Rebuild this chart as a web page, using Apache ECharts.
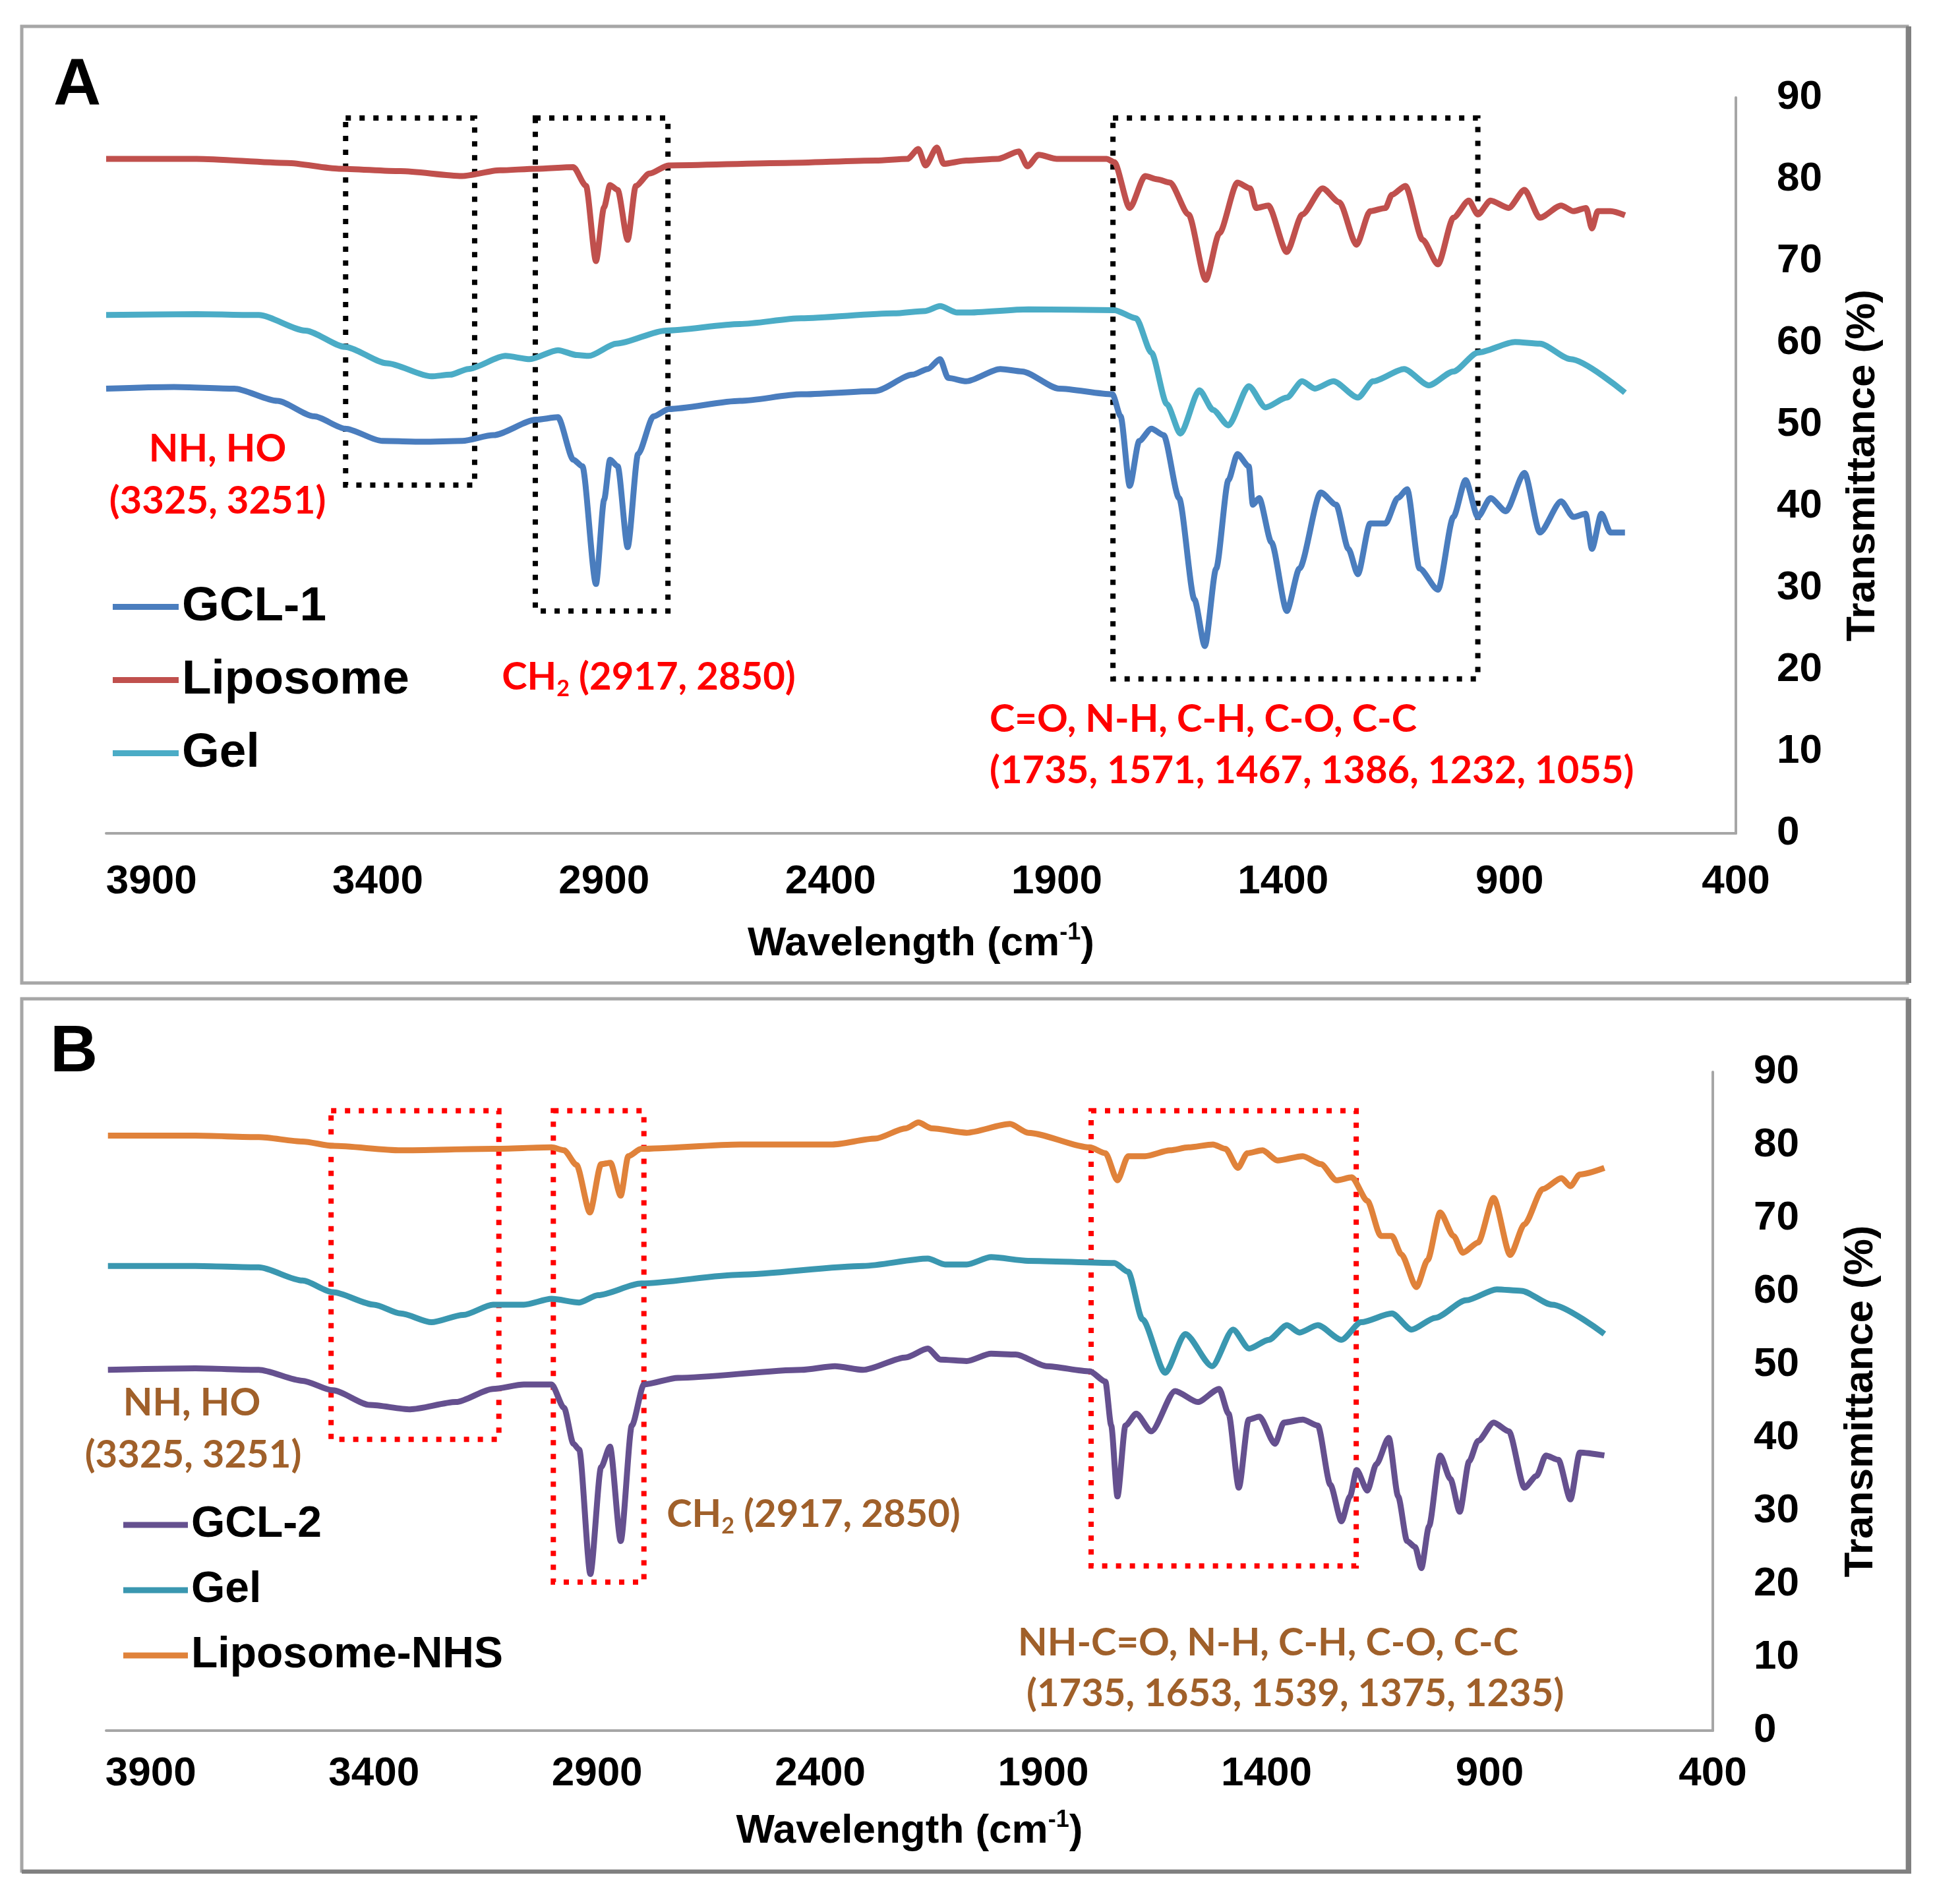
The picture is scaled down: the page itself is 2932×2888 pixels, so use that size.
<!DOCTYPE html>
<html>
<head>
<meta charset="utf-8">
<title>FTIR spectra</title>
<script src="https://cdn.jsdelivr.net/npm/echarts@6/dist/echarts.min.js"></script>
<style>
  html, body { margin: 0; padding: 0; background: #fff; }
  #main { width: 2932px; height: 2888px; }
</style>
</head>
<body>
<div id="main"></div>
<script>
// x ticks (cm-1) and y ticks (%)
var xTicks = [3900, 3400, 2900, 2400, 1900, 1400, 900, 400];
var yTicks = [0, 10, 20, 30, 40, 50, 60, 70, 80, 90];

// panel A : [wavenumber, transmittance]
var gcl1 = [[4000,54.4],[3850,54.6],[3717,54.4],[3622,52.9],[3540,51.0],[3472,49.5],[3390,48.0],[3300,47.9],[3213,48.0],[3145,48.7],[3050,50.6],[3002,50.9],[2968,45.7],[2948,44.9],[2918,30.5],[2900,40.8],[2887,45.7],[2870,44.9],[2848,35.0],[2825,46.4],[2791,51.0],[2757,51.9],[2600,52.9],[2465,53.7],[2301,54.1],[2219,56.1],[2185,56.8],[2158,58.0],[2140,55.7],[2100,55.3],[2025,56.8],[1977,56.5],[1895,54.4],[1777,53.7],[1759,51.0],[1739,42.5],[1718,48.0],[1691,49.5],[1664,48.7],[1630,41.0],[1596,28.6],[1573,22.9],[1548,32.4],[1521,43.2],[1501,46.4],[1476,44.9],[1467,40.2],[1453,41.0],[1426,35.6],[1392,27.2],[1364,32.4],[1317,41.7],[1283,40.2],[1256,34.8],[1235,31.7],[1208,37.9],[1174,37.9],[1147,41.0],[1126,42.1],[1099,32.4],[1058,29.8],[1024,38.7],[997,43.2],[970,38.7],[942,41.0],[908,39.4],[867,44.1],[833,36.8],[786,40.6],[759,38.7],[732,39.1],[718,34.8],[697,39.1],[677,36.8],[645,36.8]];
var liposome = [[4000,82.5],[3800,82.5],[3600,82.0],[3486,81.3],[3350,81.0],[3214,80.4],[3130,81.1],[3050,81.3],[2968,81.5],[2940,79.2],[2918,70.0],[2900,76.6],[2887,79.3],[2870,78.7],[2848,72.6],[2830,79.2],[2800,80.7],[2758,81.7],[2500,82.0],[2300,82.3],[2230,82.5],[2206,83.7],[2190,81.7],[2165,83.9],[2150,81.9],[2100,82.3],[2030,82.5],[1984,83.4],[1965,81.6],[1940,83.0],[1900,82.5],[1790,82.5],[1773,82.1],[1739,76.5],[1705,80.4],[1678,80.0],[1650,79.6],[1609,75.7],[1571,67.7],[1541,73.4],[1501,79.6],[1473,78.9],[1460,76.5],[1433,76.8],[1392,71.1],[1358,75.7],[1313,78.9],[1276,77.2],[1238,72.0],[1208,76.1],[1174,76.5],[1160,78.1],[1130,79.2],[1092,72.6],[1058,69.6],[1024,75.3],[990,77.4],[970,75.7],[942,77.4],[902,76.5],[867,78.7],[833,75.3],[786,76.8],[759,76.1],[731,76.5],[718,74.0],[705,76.1],[677,76.1],[645,75.6]];
var gelA = [[4000,63.4],[3800,63.5],[3663,63.4],[3560,61.5],[3472,59.5],[3380,57.5],[3282,55.9],[3240,56.1],[3200,56.8],[3118,58.4],[3064,58.0],[3002,59.1],[2960,58.5],[2934,58.4],[2873,59.9],[2764,61.5],[2600,62.3],[2465,63.0],[2260,63.6],[2190,63.9],[2158,64.5],[2120,63.7],[2100,63.7],[1963,64.1],[1773,64.0],[1725,63.0],[1691,58.8],[1657,52.5],[1627,48.9],[1585,54.2],[1555,51.8],[1521,49.9],[1476,54.7],[1439,52.1],[1392,53.3],[1358,55.3],[1330,54.4],[1289,55.3],[1235,53.3],[1201,55.3],[1133,56.8],[1078,54.8],[1024,56.5],[970,58.8],[888,60.1],[833,59.9],[765,58.0],[645,53.9]];

// panel B
var gcl2 = [[3996,49.3],[3800,49.5],[3658,49.3],[3560,47.8],[3492,46.5],[3409,44.5],[3319,43.9],[3216,44.9],[3133,46.7],[3064,47.3],[3002,47.3],[2974,44.1],[2953,39.2],[2940,38.4],[2915,21.4],[2891,36.0],[2871,38.8],[2847,25.9],[2822,41.7],[2795,47.3],[2719,48.2],[2442,49.3],[2367,49.8],[2304,49.3],[2208,51.0],[2159,52.2],[2130,50.7],[2072,50.5],[2017,51.5],[1962,51.4],[1893,49.8],[1796,49.1],[1761,47.7],[1748,41.7],[1734,32.0],[1716,41.7],[1692,43.3],[1658,40.9],[1605,46.4],[1554,44.9],[1506,46.7],[1485,43.3],[1462,33.2],[1440,42.5],[1416,42.9],[1381,39.2],[1361,42.1],[1319,42.5],[1285,41.7],[1257,33.6],[1232,28.6],[1213,32.0],[1198,35.6],[1174,32.8],[1154,36.4],[1126,40.0],[1105,32.0],[1085,25.9],[1067,25.1],[1053,22.2],[1036,27.9],[1011,37.6],[988,34.4],[967,29.9],[946,36.8],[926,39.6],[891,42.1],[857,40.9],[822,33.2],[795,34.8],[774,37.6],[746,37.0],[719,31.6],[698,38.0],[643,37.6]];
var gelB = [[3996,63.5],[3800,63.5],[3658,63.3],[3560,61.5],[3492,59.9],[3400,58.2],[3340,57.0],[3271,55.8],[3200,56.8],[3133,58.2],[3064,58.2],[3002,59.0],[2940,58.5],[2898,59.5],[2801,61.1],[2580,62.3],[2304,63.5],[2159,64.5],[2120,63.7],[2072,63.7],[2017,64.7],[1934,64.2],[1741,63.9],[1710,62.7],[1678,56.2],[1627,48.9],[1582,54.2],[1522,49.8],[1475,54.8],[1439,52.2],[1395,53.4],[1354,55.4],[1326,54.4],[1285,55.4],[1232,53.4],[1188,55.8],[1119,57.0],[1075,54.8],[1022,56.4],[953,58.8],[884,60.3],[829,60.1],[760,58.2],[643,54.2]];
var liposomeNhs = [[3996,81.3],[3800,81.3],[3658,81.1],[3560,80.5],[3492,79.9],[3340,79.3],[3133,79.5],[3002,79.7],[2974,79.3],[2946,77.3],[2916,70.8],[2891,77.4],[2870,77.6],[2847,73.1],[2830,78.5],[2801,79.5],[2580,80.1],[2373,80.1],[2277,80.9],[2208,82.3],[2180,83.1],[2150,82.3],[2072,81.7],[1975,82.9],[1934,81.7],[1796,79.7],[1761,78.9],[1734,75.2],[1710,78.5],[1672,78.5],[1616,79.3],[1575,79.7],[1520,80.1],[1492,79.5],[1464,76.9],[1443,78.9],[1409,79.3],[1375,77.9],[1319,78.5],[1278,77.4],[1243,75.2],[1209,75.6],[1174,72.4],[1144,67.6],[1119,67.6],[1098,65.1],[1064,60.6],[1039,64.3],[1011,70.8],[981,67.6],[960,65.3],[926,66.7],[891,72.8],[854,65.0],[822,69.2],[781,74.0],[739,75.5],[719,74.4],[698,76.0],[643,76.9]];

// highlighted regions [wn from, T top, wn to, T bottom]
var boxesA = [[3471, 87.5, 3186, 42.6], [3052, 87.5, 2759, 27.2], [1776, 87.5, 970, 18.9]];
var boxesB = [[3496, 84.7, 3120, 39.8], [2998, 84.7, 2795, 20.3], [1793, 84.7, 1199, 22.5]];

var FONT = '"Liberation Sans", Arial, sans-serif';
var NOTE_FONT = 'Lato, "Open Sans", sans-serif';
var AXIS_GREY = '#a6a6a6';

var myChart = echarts.init(document.getElementById('main'));

function xAxisOf(idx, margin, gap) {
    return {
        type: 'value',
        gridIndex: idx,
        min: 400,
        max: 4000,
        interval: 500,
        inverse: true,
        name: '{n|Wavelength (cm}{s|-1}{n|)}',
        nameLocation: 'middle',
        nameGap: gap,
        nameTextStyle: {
            rich: {
                n: { fontSize: 62, fontWeight: 'bold', fontFamily: FONT, color: '#000', lineHeight: 70 },
                s: { fontSize: 36, fontWeight: 'bold', fontFamily: FONT, color: '#000', lineHeight: 40, verticalAlign: 'top' }
            }
        },
        axisLine: { show: true, lineStyle: { color: AXIS_GREY, width: 4 } },
        axisTick: { show: false },
        splitLine: { show: false },
        axisLabel: {
            margin: margin,
            fontSize: 62,
            fontWeight: 'bold',
            fontFamily: FONT,
            color: '#000',
            showMaxLabel: false,
            formatter: function (v) { return xTicks.indexOf(v) >= 0 ? String(v) : ''; }
        }
    };
}

function yAxisOf(idx, gap) {
    return {
        type: 'value',
        gridIndex: idx,
        position: 'right',
        min: yTicks[0],
        max: yTicks[yTicks.length - 1],
        interval: 10,
        name: 'Transmittance (%)',
        nameLocation: 'middle',
        nameRotate: 90,
        nameGap: gap,
        nameTextStyle: { fontSize: 62, fontWeight: 'bold', fontFamily: FONT, color: '#000' },
        axisLine: { show: true, lineStyle: { color: AXIS_GREY, width: 4 } },
        axisTick: { show: false },
        splitLine: { show: false },
        axisLabel: { margin: 62, fontSize: 62, fontWeight: 'bold', fontFamily: FONT, color: '#000', align: 'left' }
    };
}

function boxAreas(boxes, color) {
    return {
        silent: true,
        itemStyle: { color: 'rgba(0,0,0,0)', borderColor: color, borderWidth: 8, borderType: [8, 13] },
        data: boxes.map(function (b) {
            return [{ coord: [b[0], b[1]] }, { coord: [b[2], b[3]] }];
        })
    };
}

function lineOf(name, data, color, idx, extra) {
    var s = {
        name: name,
        type: 'line',
        xAxisIndex: idx,
        yAxisIndex: idx,
        data: data,
        showSymbol: false,
        smooth: 0.25,
        smoothMonotone: 'x',
        lineStyle: { color: color, width: 9 },
        itemStyle: { color: color }
    };
    if (extra) s.markArea = extra;
    return s;
}

function note(text, x, y, color, align) {
    return {
        type: 'text',
        x: x,
        y: y,
        style: {
            text: text,
            fill: color,
            align: align || 'center',
            verticalAlign: 'middle',
            rich: {
                a: { fontSize: 58, fontWeight: 'bold', fontFamily: NOTE_FONT, fill: color, lineHeight: 70 },
                b: { fontSize: 34, fontWeight: 'bold', fontFamily: NOTE_FONT, fill: color, lineHeight: 36, verticalAlign: 'bottom' }
            }
        }
    };
}

var red = '#ff0000';
var brown = '#a0602a';

option = {
    backgroundColor: '#fff',
    animation: false,
    grid: [
        { left: 161, top: 148, width: 2472, height: 1116 },
        { left: 161, top: 1626, width: 2437, height: 999 }
    ],
    xAxis: [xAxisOf(0, 43, 133), xAxisOf(1, 35, 118)],
    yAxis: [yAxisOf(0, 162), yAxisOf(1, 194)],
    legend: [
        {
            orient: 'vertical',
            left: 171,
            top: 884,
            padding: 0,
            itemGap: 38,
            itemWidth: 100,
            itemHeight: 9,
            icon: 'rect',
            textStyle: { fontSize: 73, fontWeight: 'bold', fontFamily: FONT, color: '#000', lineHeight: 73 },
            data: [
                { name: 'GCL-1', itemStyle: { color: '#4a7dbe' } },
                { name: 'Liposome', itemStyle: { color: '#c0504d' } },
                { name: 'Gel', itemStyle: { color: '#4bacc6' } }
            ]
        },
        {
            orient: 'vertical',
            left: 187,
            top: 2280,
            padding: 0,
            itemGap: 33,
            itemWidth: 98,
            itemHeight: 9,
            icon: 'rect',
            textStyle: { fontSize: 66, fontWeight: 'bold', fontFamily: FONT, color: '#000', lineHeight: 66 },
            data: [
                { name: 'GCL-2', itemStyle: { color: '#65508f' } },
                { name: 'Gel ', itemStyle: { color: '#3a97b0' } },
                { name: 'Liposome-NHS', itemStyle: { color: '#e0823a' } }
            ]
        }
    ],
    series: [
        lineOf('Liposome', liposome, '#c0504d', 0, boxAreas(boxesA, '#000')),
        lineOf('Gel', gelA, '#4bacc6', 0),
        lineOf('GCL-1', gcl1, '#4a7dbe', 0),
        lineOf('Liposome-NHS', liposomeNhs, '#e0823a', 1, boxAreas(boxesB, '#ff0000')),
        lineOf('Gel ', gelB, '#3a97b0', 1),
        lineOf('GCL-2', gcl2, '#65508f', 1)
    ],
    graphic: [
        // panel frames
        { type: 'rect', shape: { x: 33, y: 40, width: 2860, height: 1451 }, style: { fill: 'none', stroke: '#a6a6a6', lineWidth: 5 } },
        { type: 'line', shape: { x1: 2895, y1: 40, x2: 2895, y2: 1491 }, style: { stroke: '#808080', lineWidth: 8 } },
        { type: 'rect', shape: { x: 33, y: 1515, width: 2860, height: 1323 }, style: { fill: 'none', stroke: '#a6a6a6', lineWidth: 5 } },
        { type: 'line', shape: { x1: 2895, y1: 1515, x2: 2895, y2: 2841 }, style: { stroke: '#808080', lineWidth: 8 } },
        { type: 'line', shape: { x1: 33, y1: 2839, x2: 2899, y2: 2839 }, style: { stroke: '#808080', lineWidth: 6 } },
        // panel letters
        { type: 'text', x: 117, y: 131, style: { text: 'A', fontSize: 100, fontWeight: 'bold', fontFamily: FONT, fill: '#000', align: 'center', verticalAlign: 'middle' } },
        { type: 'text', x: 112, y: 1597, style: { text: 'B', fontSize: 100, fontWeight: 'bold', fontFamily: FONT, fill: '#000', align: 'center', verticalAlign: 'middle' } },
        // panel A notes
        note('{a|NH, HO}', 330, 681, red),
        note('{a|(3325, 3251)}', 330, 760, red),
        note('{a|CH}{b|2}{a| (2917, 2850)}', 984, 1027, red),
        note('{a|C=O, N-H, C-H, C-O, C-C}', 1501, 1091, red, 'left'),
        note('{a|(1735, 1571, 1467, 1386, 1232, 1055)}', 1501, 1169, red, 'left'),
        // panel B notes
        note('{a|NH, HO}', 291, 2128, brown),
        note('{a|(3325, 3251)}', 293, 2207, brown),
        note('{a|CH}{b|2}{a| (2917, 2850)}', 1234, 2297, brown),
        note('{a|NH-C=O, N-H, C-H, C-O, C-C}', 1544, 2492, brown, 'left'),
        note('{a|(1735, 1653, 1539, 1375, 1235)}', 1557, 2569, brown, 'left')
    ]
};

myChart.setOption(option);
</script>
</body>
</html>
